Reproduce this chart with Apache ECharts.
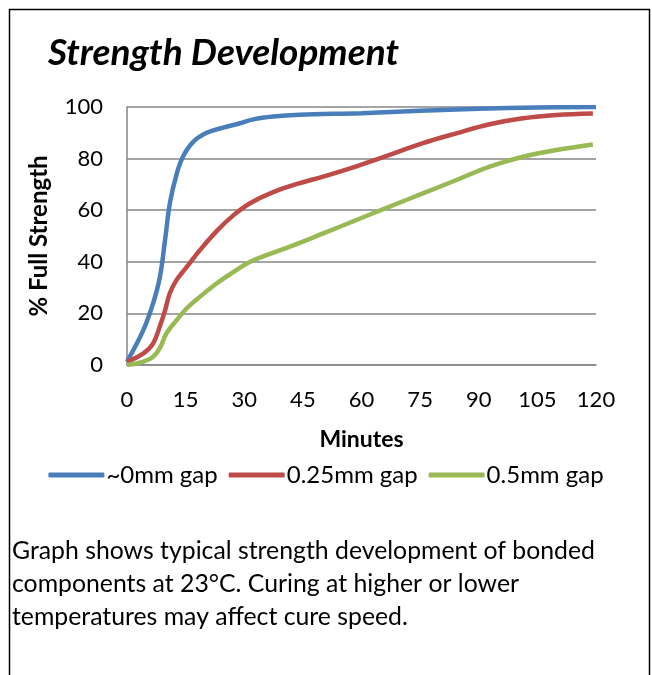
<!DOCTYPE html>
<html><head><meta charset="utf-8">
<script src="https://cdn.jsdelivr.net/npm/echarts@6/dist/echarts.min.js"></script>
<style>html,body{margin:0;padding:0;background:#fff}#c{width:652px;height:675px}</style>
</head><body><div id="c"></div>
<script>
const titleText = "Strength Development";
const xTicks = [0, 15, 30, 45, 60, 75, 90, 105, 120];
const yTicks = [0, 20, 40, 60, 80, 100];
const seriesNames = ["~0mm gap", "0.25mm gap", "0.5mm gap"];
const minutes0 = [0, 4.2, 6.7, 8.4, 9.7, 11, 12.7, 14.4, 17, 20.4, 24.6, 28.9, 32.3, 37.4, 44, 60, 75, 90, 105, 120];
const gap0 = [1.3, 13.6, 24, 34, 48, 63, 74, 81, 86.6, 90, 92, 93.7, 95.2, 96.3, 97, 97.6, 98.5, 99.3, 99.8, 100];
const minutes25 = [0, 4.2, 6.7, 8.4, 9.7, 11, 12.7, 15.3, 18.7, 23, 27.2, 31.5, 37.4, 44, 50.2, 58.7, 67.2, 75.7, 84.3, 92.8, 101.3, 109.8, 119.2];
const gap25 = [1.3, 4.5, 8.4, 15, 21, 28, 33, 38, 44.6, 52, 58, 62.7, 67, 70.4, 73, 77, 81.4, 86, 89.8, 93.3, 95.6, 96.9, 97.5];
const minutes5 = [0, 4.2, 6.7, 8.4, 10.1, 12.7, 15.3, 18.7, 23, 27.2, 31.5, 35.7, 41.7, 50.2, 58.7, 67.2, 75.7, 84.3, 92.8, 101.3, 109.8, 119.2];
const gap5 = [0, 1.3, 3.2, 6.5, 12.3, 17.4, 22, 26.5, 31.7, 36, 40, 42.6, 45.9, 51, 56.2, 61.4, 66.5, 71.7, 76.9, 80.7, 83.3, 85.5];
const xName = "Minutes";
const yName = "% Full Strength";
const noteLines = ["Graph shows typical strength development of bonded", "components at 23°C. Curing at higher or lower", "temperatures may affect cure speed."];

const FONT = "Lato";
const colors = ["#4A7EBB", "#BE4B48", "#98B954"];
const pair = (xs, ys) => xs.map((x, i) => [x, ys[i]]);
const datas = [pair(minutes0, gap0), pair(minutes25, gap25), pair(minutes5, gap5)];

const chart = echarts.init(document.getElementById('c'), null, {renderer: 'canvas'});
chart.setOption({
  animation: false,
  backgroundColor: '#fff',
  textStyle: {fontFamily: FONT},
  title: {text: titleText, left: 43, top: 30,
    textStyle: {fontFamily: FONT, fontSize: 37, fontWeight: 'bold', fontStyle: 'italic', color: '#000'}},
  grid: {left: 127, right: 56, top: 107, bottom: 310, containLabel: false},
  xAxis: {type: 'value', min: xTicks[0], max: xTicks[xTicks.length - 1], interval: 15,
    name: xName, nameLocation: 'middle', nameGap: 63,
    nameTextStyle: {fontFamily: FONT, fontSize: 23, fontWeight: 'bold', color: '#000'},
    axisLine: {show: true, lineStyle: {color: '#868686', width: 1.5}},
    axisTick: {show: false}, splitLine: {show: false},
    axisLabel: {fontFamily: FONT, fontSize: 22, color: '#000', margin: 24,
      formatter: v => xTicks.includes(v) ? String(v) : ''}},
  yAxis: {type: 'value', min: yTicks[0], max: yTicks[yTicks.length - 1], interval: 20,
    name: yName, nameLocation: 'middle', nameGap: 76, nameRotate: 90,
    nameTextStyle: {fontFamily: FONT, fontSize: 24, fontWeight: 'bold', color: '#000'},
    axisLine: {show: true, lineStyle: {color: '#868686', width: 1.5}},
    axisTick: {show: false},
    splitLine: {show: true, lineStyle: {color: '#868686', width: 1.5}},
    axisLabel: {fontFamily: FONT, fontSize: 22, color: '#000', margin: 24,
      formatter: v => yTicks.includes(v) ? String(v) : ''}},
  legend: {top: 458, left: 'center', itemWidth: 56, itemHeight: 5, itemGap: 11,
    icon: 'roundRect',
    textStyle: {fontFamily: FONT, fontSize: 24, color: '#000', padding: [0, 0, 0, -3]},
    data: seriesNames},
  series: seriesNames.map((n, i) => ({
    name: n, type: 'line', data: datas[i], smooth: 0.4, showSymbol: false, symbol: 'none',
    lineStyle: {color: colors[i], width: 4.5}, itemStyle: {color: colors[i]}
  })),
  graphic: [
    {type: 'rect', shape: {x: 9.5, y: 9.5, width: 640, height: 700}, style: {fill: null, stroke: '#000', lineWidth: 1.5}, silent: true},
    {type: 'text', left: 12, top: 535, style: {text: noteLines.join('\n'), font: '24.8px ' + FONT, lineHeight: 33, fill: '#000'}}
  ]
});
</script></body></html>
